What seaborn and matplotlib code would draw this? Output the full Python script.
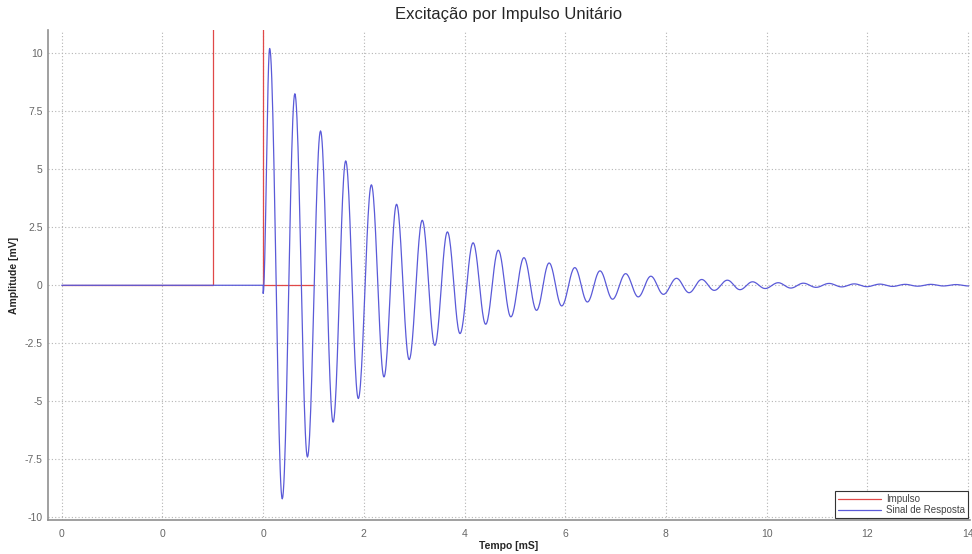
import numpy as np
import pandas as pd
import matplotlib
matplotlib.use("Agg")
import matplotlib.pyplot as plt
import seaborn as sns

# impulse (rectangular pulse, its top is far above the visible range)
impulse_t = [-4, -1, -1, 0, 0, 1]
impulse_v = [0, 0, 1000, 1000, 0, 0]

# response, times [ms] and values [mV] of each extremum
start_dip = -0.35
peak_t = [0.13, 0.38, 0.63, 0.88, 1.14, 1.39, 1.64, 1.89, 2.15, 2.40,
          2.65, 2.90, 3.16, 3.41, 3.66, 3.91, 4.17, 4.42, 4.67, 4.92,
          5.18, 5.43, 5.68, 5.93, 6.19, 6.44, 6.69, 6.94, 7.20, 7.45,
          7.70, 7.95, 8.21, 8.46, 8.71, 8.96, 9.22, 9.47, 9.72, 9.97,
          10.23, 10.48, 10.73, 10.98, 11.24, 11.49, 11.74, 11.99, 12.25, 12.50,
          12.75, 13.00, 13.26, 13.51, 13.76, 14.01]
peak_v = [10.2, -9.2, 8.25, -7.4, 6.65, -5.9, 5.36, -4.88, 4.33, -3.95,
          3.49, -3.2, 2.8, -2.59, 2.3, -2.08, 1.83, -1.68, 1.51, -1.36,
          1.19, -1.08, 0.96, -0.89, 0.76, -0.72, 0.62, -0.6, 0.5, -0.5,
          0.39, -0.39, 0.3, -0.32, 0.25, -0.22, 0.22, -0.19, 0.15, -0.14,
          0.11, -0.12, 0.09, -0.09, 0.08, -0.07, 0.06, -0.06, 0.05, -0.05,
          0.04, -0.04, 0.04, -0.03, 0.03, -0.03]

xticks = [-4, -2, 0, 2, 4, 6, 8, 10, 12, 14]
xticklabels = ["0", "0", "0", "2", "4", "6", "8", "10", "12", "14"]
yticks = [-10, -7.5, -5, -2.5, 0, 2.5, 5, 7.5, 10]
yticklabels = ["-10", "-7.5", "-5", "-2.5", "0", "2.5", "5", "7.5", "10"]

# smooth half-wave segments between the read extrema
pts_t = [0.0] + peak_t
pts_v = [start_dip] + peak_v
resp_t, resp_v = [-4.0, 0.0], [0.0, 0.0]
for a in range(len(pts_t) - 1):
    s = np.linspace(0, 1, 24, endpoint=False)
    resp_t += list(pts_t[a] + (pts_t[a + 1] - pts_t[a]) * s)
    resp_v += list(pts_v[a] + (pts_v[a + 1] - pts_v[a]) * (1 - np.cos(np.pi * s)) / 2)
resp_t.append(pts_t[-1])
resp_v.append(pts_v[-1])

df_imp = pd.DataFrame({"t": impulse_t, "v": impulse_v})
df_resp = pd.DataFrame({"t": resp_t, "v": resp_v})

sns.set_style("white")
plt.rcParams["font.family"] = ["Liberation Sans", "DejaVu Sans"]

fig = plt.figure(figsize=(9.72, 5.54), dpi=100)
ax = fig.add_axes([0.049, 0.061, 0.949, 0.885])

sns.lineplot(data=df_imp, x="t", y="v", ax=ax, color="#e04848", lw=0.9,
             estimator=None, sort=False, label="Impulso")
sns.lineplot(data=df_resp, x="t", y="v", ax=ax, color="#5a5ad8", lw=0.9,
             estimator=None, sort=False, label="Sinal de Resposta")

ax.set_xlim(-4.28, 14.04)
ax.set_ylim(-10.12, 11.0)
ax.set_xticks(xticks)
ax.set_xticklabels(xticklabels)
ax.set_yticks(yticks)
ax.set_yticklabels(yticklabels)
ax.grid(True, linestyle=(0, (1, 2)), color="#b4b4b4", lw=0.8)
ax.tick_params(direction="in", length=5, width=0.8, colors="#666666",
               labelsize=7.5, labelcolor="#666666")
ax.tick_params(axis="x", pad=6)

for side in ["top", "right"]:
    ax.spines[side].set_visible(False)
for side in ["left", "bottom"]:
    ax.spines[side].set_color("#909090")
    ax.spines[side].set_linewidth(1.2)

ax.set_title("Excitação por Impulso Unitário", fontsize=12, pad=8)
ax.set_xlabel("Tempo [mS]", fontsize=7.5, fontweight="bold", labelpad=2)
ax.set_ylabel("Amplitude [mV]", fontsize=7.5, fontweight="bold", labelpad=4)

leg = ax.legend(loc="lower right", fontsize=7, handlelength=4.5, frameon=True,
                fancybox=False, framealpha=1, borderaxespad=0.2,
                borderpad=0.3, labelspacing=0.1, handletextpad=0.5)
leg.get_frame().set_edgecolor("#333333")
leg.get_frame().set_linewidth(0.8)
for txt in leg.get_texts():
    txt.set_color("#444444")

fig.savefig("out.png", dpi=100)
